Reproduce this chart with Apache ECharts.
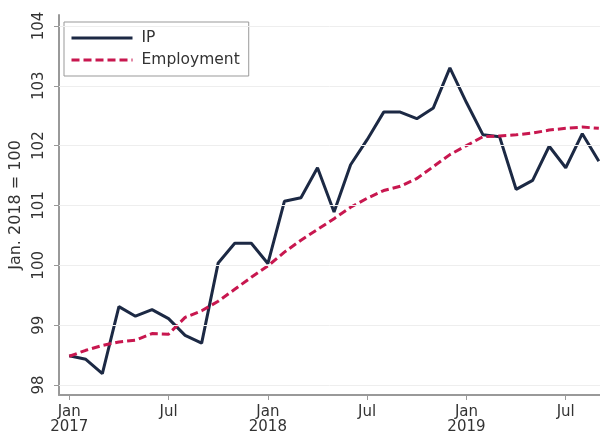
<!DOCTYPE html>
<html>
<head>
<meta charset="utf-8">
<script src="https://cdn.jsdelivr.net/npm/echarts@6/dist/echarts.min.js"></script>
<style>
html,body{margin:0;padding:0;background:#fff;}
#chart{width:600px;height:435px;}
</style>
</head>
<body>
<div id="chart"></div>
<script>
// Months (Jan 2017 – Sep 2019)
const months = ['2017-01','2017-02','2017-03','2017-04','2017-05','2017-06','2017-07','2017-08','2017-09','2017-10','2017-11','2017-12',
  '2018-01','2018-02','2018-03','2018-04','2018-05','2018-06','2018-07','2018-08','2018-09','2018-10','2018-11','2018-12',
  '2019-01','2019-02','2019-03','2019-04','2019-05','2019-06','2019-07','2019-08','2019-09'];
const ip = [98.49,98.43,98.19,99.31,99.15,99.26,99.11,98.83,98.70,100.04,100.37,100.37,
  100.03,101.07,101.13,101.63,100.89,101.68,102.10,102.56,102.56,102.45,102.63,103.30,
  102.72,102.18,102.15,101.27,101.42,101.99,101.63,102.20,101.74];
const employment = [98.48,98.58,98.66,98.72,98.75,98.86,98.85,99.13,99.24,99.40,99.60,99.80,
  99.99,100.22,100.42,100.60,100.78,100.97,101.12,101.25,101.32,101.45,101.65,101.85,
  102.00,102.15,102.16,102.18,102.21,102.26,102.29,102.31,102.29];
const xTickPos = [0,6,12,18,24,30];
const xTickLabels = ['Jan\n2017','Jul','Jan\n2018','Jul','Jan\n2019','Jul'];
const yTicks = [98,99,100,101,102,103,104];

const font = 'DejaVu Sans';
const chart = echarts.init(document.getElementById('chart'), null, {renderer:'canvas'});
const toPairs = arr => arr.map((v,i)=>[i,v]);

chart.setOption({
  animation:false,
  backgroundColor:'#ffffff',
  textStyle:{fontFamily:font},
  grid:{left:59,right:0,top:15,bottom:39,containLabel:false},
  legend:{
    orient:'vertical', left:64, top:22,
    data:['IP','Employment'],
    backgroundColor:'#fff',
    borderColor:'#999', borderWidth:1, borderRadius:0,
    padding:[8,9,8,6], itemGap:6,
    itemWidth:61, itemHeight:15,
    itemStyle:{opacity:0},
    lineStyle:{width:3},
    textStyle:{fontFamily:font,fontSize:15.5,color:'#333',padding:[0,0,0,4]}
  },
  xAxis:{
    type:'value', min:-0.62, max:32.07,
    splitLine:{show:false},
    axisLine:{show:true,onZero:false,lineStyle:{color:'#999',width:2}},
    axisTick:{show:true,length:5,customValues:xTickPos,lineStyle:{color:'#999',width:1}},
    axisLabel:{customValues:xTickPos,margin:10,fontFamily:font,fontSize:15,color:'#333',lineHeight:15,
      formatter:v=>{const k=xTickPos.indexOf(v);return k>=0?xTickLabels[k]:'';}}
  },
  yAxis:{
    type:'value', min:97.833, max:104.183,
    name:'Jan. 2018 = 100', nameLocation:'middle', nameRotate:90, nameGap:28,
    nameTextStyle:{fontFamily:font,fontSize:16,color:'#333'},
    splitLine:{show:false},
    axisLine:{show:true,onZero:false,lineStyle:{color:'#999',width:2}},
    axisTick:{show:true,length:5,customValues:yTicks,lineStyle:{color:'#999',width:1}},
    axisLabel:{customValues:yTicks,rotate:90,margin:12,fontFamily:font,fontSize:15,color:'#333',
      formatter:v=>String(Math.round(v))}
  },
  series:[
    {name:'grid',type:'line',data:[],silent:true,z:1,
      markLine:{silent:true,symbol:'none',label:{show:false},
        lineStyle:{color:'#eeeeee',width:1,type:'solid'},
        data:yTicks.map(v=>({yAxis:v}))}},
    {name:'IP',type:'line',data:toPairs(ip),symbol:'none',z:3,
      lineStyle:{color:'#1c2944',width:3,type:'solid'},itemStyle:{color:'#1c2944'}},
    {name:'Employment',type:'line',data:toPairs(employment),symbol:'none',z:4,
      lineStyle:{color:'#c8174f',width:3,type:[8,4]},itemStyle:{color:'#c8174f'}}
  ]
});
</script>
</body>
</html>
